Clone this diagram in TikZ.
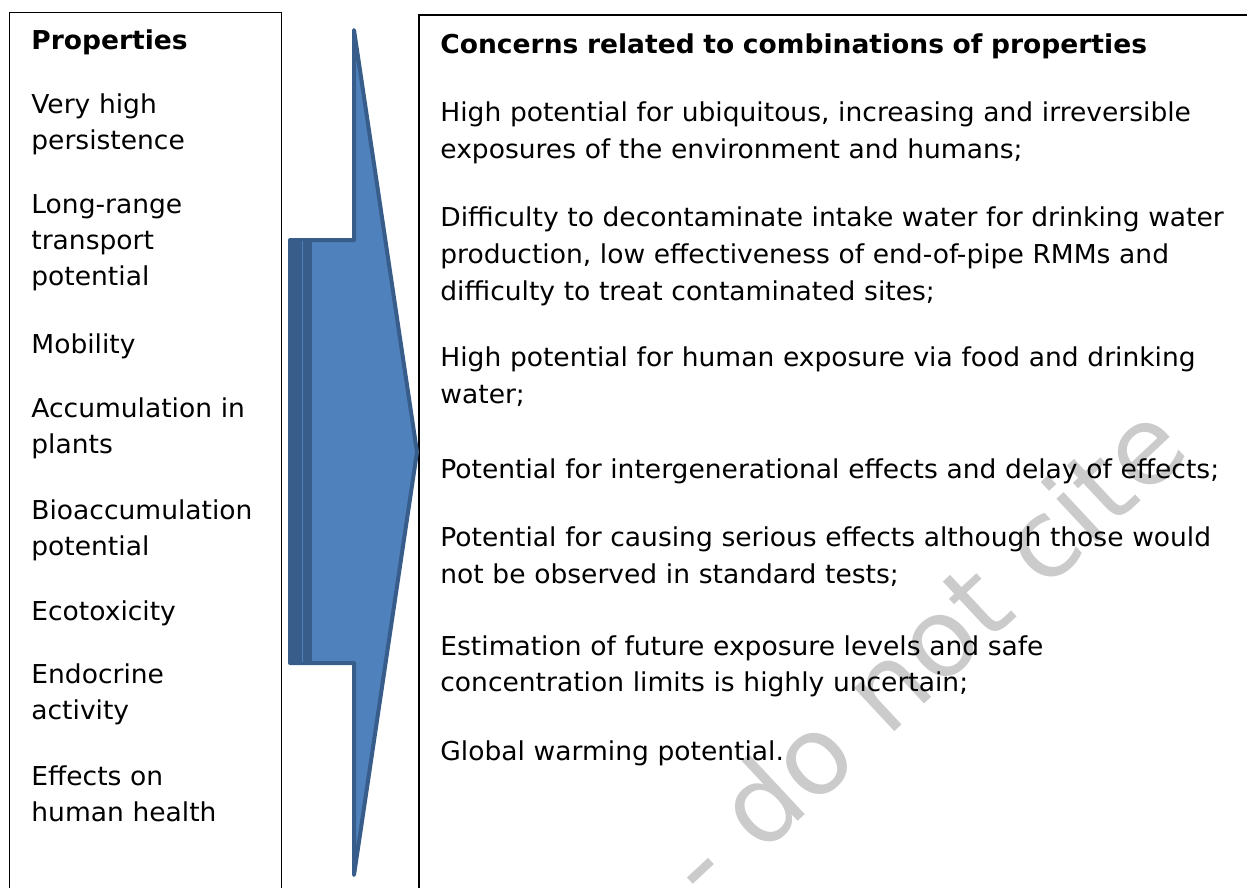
\documentclass[tikz,border=0pt]{standalone}
\usepackage{fontspec}
\setmainfont[FakeStretch=1.02]{DejaVu Sans}
\usepackage{xcolor}
\usetikzlibrary{positioning}

\definecolor{arrowfill}{HTML}{4F81BD}
\definecolor{arrowline}{HTML}{385D8A}
\definecolor{stampgray}{HTML}{CBCBCB}

\tikzset{
	panel/.style={draw=black, line width=0.65pt},
	proptext/.style={anchor=base west, inner sep=0pt, text width=125pt, align=left, font=\fontsize{13}{18}\selectfont},
	concerntext/.style={anchor=base west, inner sep=0pt, text width=420pt, align=left, font=\fontsize{13}{18.35}\selectfont},
}

\begin{document}
\begin{tikzpicture}[x=0.5pt, y=-0.5pt]
	
	\useasboundingbox (0,0) rectangle (1247,888);
	\begin{scope}
		\clip (0,0) rectangle (1247,888);
		
		% 1. 背景水印
		\node[rotate=43, anchor=mid, inner sep=0pt, text=stampgray, font=\fontsize{54}{60}\selectfont] (Stamp) at (946,676) {- do not cite};
		
		% 2. 两个方框 (下边和右边超出页面)
		\draw[panel] (9.5,950) -- (9.5,12.7) -- (281.7,12.7) -- (281.7,950);
		\draw[panel] (419,950) -- (419,15) -- (1300,15);
		
		% 3. 定义箭头的关键坐标
		\coordinate (ShaftTL) at (290,240);   % 箭杆左上
		\coordinate (ShaftBL) at (290,663);   % 箭杆左下
		\coordinate (HeadT) at (354,30);      % 箭头上端
		\coordinate (HeadB) at (354,875);     % 箭头下端
		\coordinate (Tip) at (417,452);       % 箭尖
		
		% 4. 绘制大箭头
		\draw[fill=arrowfill, draw=arrowline, line width=2pt, line join=round]
		(ShaftTL) -- (354,240) -- (HeadT) -- (Tip) -- (HeadB) -- (354,663) -- (ShaftBL) -- cycle;
		\fill[arrowline] (288,240) rectangle (312,663);
		\draw[arrowfill, line width=0.5pt] (302.5,241) -- (302.5,662);
		
		% 5. 左框: 性质
		\node[proptext, font=\fontsize{13}{18}\bfseries] (Prop) at (31,50) {Properties};
		\node[proptext] (Pers) at (31,113.3) {Very high\\persistence};
		\node[proptext] (LRT) at (31,213.3) {Long-range\\transport\\potential};
		\node[proptext] (Mob) at (31,353.3) {Mobility};
		\node[proptext] (AccP) at (31,417.3) {Accumulation in\\plants};
		\node[proptext] (BioAcc) at (31,519) {Bioaccumulation\\potential};
		\node[proptext] (EcoTox) at (31,620) {Ecotoxicity};
		\node[proptext] (Endo) at (31,683.3) {Endocrine\\activity};
		\node[proptext] (HumH) at (31,785) {Effects on\\human health};
		
		% 6. 右框: 组合性质带来的问题
		\node[concerntext, font=\fontsize{13}{18.35}\bfseries] (Conc) at (440,53.3) {Concerns related to combinations of properties};
		\node[concerntext] (C1) at (440,121.7) {High potential for ubiquitous, increasing and irreversible\\exposures of the environment and humans;};
		\node[concerntext] (C2) at (440,226.7) {Difficulty to decontaminate intake water for drinking water\\production, low effectiveness of end-of-pipe RMMs and\\difficulty to treat contaminated sites;};
		\node[concerntext] (C3) at (440,366.7) {High potential for human exposure via food and drinking\\water;};
		\node[concerntext] (C4) at (440,478.3) {Potential for intergenerational effects and delay of effects;};
		\node[concerntext] (C5) at (440,546.7) {Potential for causing serious effects although those would\\not be observed in standard tests;};
		\node[concerntext] (C6) at (440,655) {Estimation of future exposure levels and safe\\concentration limits is highly uncertain;};
		\node[concerntext] (C7) at (440,760) {Global warming potential.};
		
	\end{scope}
	
\end{tikzpicture}
\end{document}
